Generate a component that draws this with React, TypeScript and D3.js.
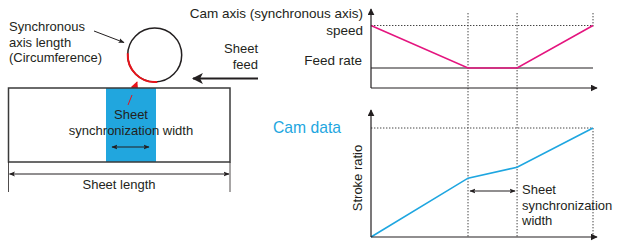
import * as d3 from "d3";
import React from "react";

// cam profile, x = fraction of one master cycle
const phases = [0, 0.437, 0.658, 1];
const speedValues = [1, 0.32, 0.32, 1];
const feedRate = 0.32;
const strokeValues = [0, 0.54, 0.64, 1];

const speedLabels = ["Cam axis (synchronous axis)", "speed"];
const syncLabel = ["Sheet", "synchronization", "width"];

const FONT = "'Liberation Sans', Arial, Helvetica, sans-serif";
const TEXT = "#231f20";
const MAGENTA = "#e4157f";
const CYAN = "#1ea6e0";

const App: React.FC = () => {
  const x = d3.scaleLinear().domain([0, 1]).range([371, 593]);
  const ySpeed = d3.scaleLinear().domain([0, 1]).range([88, 25.5]);
  const yStroke = d3.scaleLinear().domain([0, 1]).range([237, 128]);

  const speedLine = d3
    .line<number>()
    .x((_, i) => x(phases[i]))
    .y((d) => ySpeed(d));
  const strokeLine = d3
    .line<number>()
    .x((_, i) => x(phases[i]))
    .y((d) => yStroke(d));

  const dot = { stroke: "#444", strokeWidth: 1, strokeDasharray: "1.4,1.6" };

  // left illustration
  const circle = { cx: 154.7, cy: 55, r: 27 };
  const redArc = d3
    .arc()
    .innerRadius(circle.r)
    .outerRadius(circle.r)
    .startAngle(Math.PI * 0.97)
    .endAngle(Math.PI * 1.52);

  return (
    <svg
      width={617}
      height={242}
      style={{ position: "absolute", left: 0, top: 0, background: "#fff" }}
      fontFamily={FONT}
      fill={TEXT}
    >
      <defs>
        <marker id="axisHead" viewBox="0 0 10 10" refX="9" refY="5" markerWidth="7" markerHeight="7" markerUnits="userSpaceOnUse" orient="auto">
          <path d="M0,0 L10,5 L0,10 Z" fill="#231f20" />
        </marker>
        <marker id="thinHead" viewBox="0 0 10 10" refX="9" refY="5" markerWidth="6" markerHeight="6" markerUnits="userSpaceOnUse" orient="auto-start-reverse">
          <path d="M0,1 L10,5 L0,9 L2,5 Z" fill="#231f20" />
        </marker>
        <marker id="feedHead" viewBox="0 0 10 10" refX="9" refY="5" markerWidth="11" markerHeight="11" markerUnits="userSpaceOnUse" orient="auto">
          <path d="M0,0 L10,5 L0,10 L2.5,5 Z" fill="#231f20" />
        </marker>
        <marker id="redHead" viewBox="0 0 10 10" refX="9" refY="5" markerWidth="8" markerHeight="8" markerUnits="userSpaceOnUse" orient="auto">
          <path d="M0,0 L10,5 L0,10 Z" fill="#e8141b" />
        </marker>
      </defs>

      {/* ---------- left: sheet & synchronous axis ---------- */}
      <text fontSize={13}>
        <tspan x={9} y={31}>Synchronous</tspan>
        <tspan x={9} y={46.5}>axis length</tspan>
        <tspan x={9} y={62}>(Circumference)</tspan>
      </text>
      <line x1={94} y1={31} x2={124} y2={42.5} stroke={TEXT} strokeWidth={1} markerEnd="url(#thinHead)" />

      <circle cx={circle.cx} cy={circle.cy} r={circle.r} fill="none" stroke={TEXT} strokeWidth={1.5} />
      <path
        d={redArc({} as any) || ""}
        transform={`translate(${circle.cx},${circle.cy})`}
        fill="none"
        stroke="#e8141b"
        strokeWidth={2}
      />
      <line x1={128} y1={105} x2={137} y2={82} stroke="#e8141b" strokeWidth={1} markerEnd="url(#redHead)" />

      <text fontSize={13} textAnchor="end">
        <tspan x={258} y={53}>Sheet</tspan>
        <tspan x={258} y={68.5}>feed</tspan>
      </text>
      <line x1={258} y1={78.5} x2={193} y2={78.5} stroke={TEXT} strokeWidth={2} markerEnd="url(#feedHead)" />

      <rect x={106} y={88} width={50} height={74} fill="#21a6de" />
      <rect x={8.5} y={88} width={221.5} height={74} fill="none" stroke="#3a3a3a" strokeWidth={1.5} />
      <line x1={128} y1={105} x2={132} y2={95} stroke="#e8141b" strokeWidth={1} />
      <text fontSize={13} textAnchor="middle">
        <tspan x={131} y={119}>Sheet</tspan>
        <tspan x={131} y={135}>synchronization width</tspan>
      </text>
      <line x1={112} y1={147} x2={149} y2={147} stroke={TEXT} strokeWidth={1.2} markerStart="url(#thinHead)" markerEnd="url(#thinHead)" />

      <line x1={8.5} y1={162} x2={8.5} y2={192} stroke={TEXT} strokeWidth={0.8} />
      <line x1={230} y1={162} x2={230} y2={192} stroke={TEXT} strokeWidth={0.8} />
      <line x1={9.5} y1={174} x2={229} y2={174} stroke={TEXT} strokeWidth={1} markerStart="url(#thinHead)" markerEnd="url(#thinHead)" />
      <text fontSize={13} textAnchor="middle" x={119} y={188.5}>Sheet length</text>

      {/* ---------- right top: speed ---------- */}
      <text fontSize={13.5} textAnchor="end">
        <tspan x={363} y={18}>{speedLabels[0]}</tspan>
        <tspan x={363} y={35}>{speedLabels[1]}</tspan>
      </text>
      <text fontSize={13.5} textAnchor="end" x={362} y={65}>Feed rate</text>

      <line x1={x(0)} x2={x(1)} y1={ySpeed(1)} y2={ySpeed(1)} {...dot} />
      {phases.slice(1, 3).map((p, i) => (
        <line key={i} x1={x(p)} x2={x(p)} y1={13} y2={yStroke(0)} {...dot} />
      ))}
      <line x1={x(1)} x2={x(1)} y1={13} y2={ySpeed(1) + 1} {...dot} />
      <line x1={x(1)} x2={x(1)} y1={yStroke(1)} y2={yStroke(0)} {...dot} />
      <line x1={x(0)} x2={x(1)} y1={yStroke(1)} y2={yStroke(1)} {...dot} />

      <line x1={x(0)} x2={x(1)} y1={ySpeed(feedRate)} y2={ySpeed(feedRate)} stroke={TEXT} strokeWidth={1.2} />
      <path d={speedLine(speedValues) || ""} fill="none" stroke={MAGENTA} strokeWidth={1.6} />

      <line x1={x(0)} y1={ySpeed(0)} x2={x(0)} y2={9} stroke={TEXT} strokeWidth={1.2} markerEnd="url(#axisHead)" />
      <line x1={x(0)} y1={ySpeed(0)} x2={x(1) + 4} y2={ySpeed(0)} stroke={TEXT} strokeWidth={1.2} markerEnd="url(#axisHead)" />

      {/* ---------- right bottom: cam data ---------- */}
      <text fontSize={15.7} fill={CYAN} x={273} y={133}>Cam data</text>
      <text fontSize={13} transform={`translate(362,178) rotate(-90)`} textAnchor="middle">Stroke ratio</text>

      <path d={strokeLine(strokeValues) || ""} fill="none" stroke={CYAN} strokeWidth={1.6} />
      <line x1={x(0)} y1={yStroke(0)} x2={x(0)} y2={110} stroke={TEXT} strokeWidth={1.2} markerEnd="url(#axisHead)" />
      <line x1={x(0)} y1={yStroke(0)} x2={x(1) + 4} y2={yStroke(0)} stroke={TEXT} strokeWidth={1.2} markerEnd="url(#axisHead)" />

      <line x1={x(phases[1]) + 2} x2={x(phases[2]) - 2} y1={191} y2={191} stroke={TEXT} strokeWidth={1.2} markerStart="url(#thinHead)" markerEnd="url(#thinHead)" />
      <text fontSize={13}>
        {syncLabel.map((s, i) => (
          <tspan key={i} x={522} y={194 + i * 15.5}>{s}</tspan>
        ))}
      </text>
    </svg>
  );
};

export default App;
